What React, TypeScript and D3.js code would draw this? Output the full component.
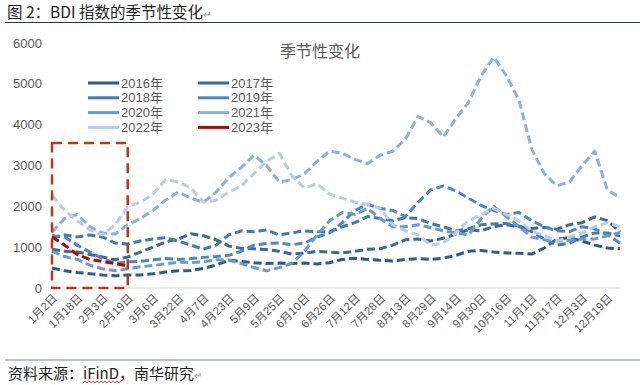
import React, { useEffect, useRef } from 'react';
import { select, scaleLinear, line, range } from 'd3';

// sampled every 8 days starting 1月2日 (leap-year calendar as in the source chart)
const sampleStep = 8;
const tickStep = 16;
const tickLabels = [
  '1月2日', '1月18日', '2月3日', '2月19日', '3月6日', '3月22日', '4月7日', '4月23日',
  '5月9日', '5月25日', '6月10日', '6月26日', '7月12日', '7月28日', '8月13日', '8月29日',
  '9月14日', '9月30日', '10月16日', '11月1日', '11月17日', '12月3日', '12月19日',
];
const yTicks = [0, 1000, 2000, 3000, 4000, 5000, 6000];

const bdi2016 = [490, 420, 380, 350, 320, 300, 320, 320, 350, 390, 420, 430, 480, 560, 680, 650,
  620, 600, 610, 600, 610, 590, 620, 700, 730, 700, 680, 660, 700, 720, 700, 730,
  800, 900, 920, 880, 860, 850, 830, 980, 1200, 1230, 1150, 1050, 980, 960];
const bdi2017 = [950, 900, 880, 820, 760, 690, 760, 880, 1000, 1130, 1200, 1330, 1280, 1180, 1030, 970,
  960, 940, 900, 830, 850, 900, 880, 860, 900, 950, 960, 1050, 1180, 1200, 1150, 1220,
  1320, 1430, 1400, 1500, 1550, 1500, 1460, 1480, 1440, 1550, 1600, 1740, 1650, 1370];
const bdi2018 = [1230, 1300, 1250, 1300, 1250, 1100, 1080, 1150, 1200, 1230, 1150, 1050, 950, 1050, 1300, 1400,
  1380, 1420, 1300, 1350, 1400, 1380, 1370, 1500, 1600, 1750, 1700, 1650, 1720, 1700, 1580, 1500,
  1400, 1450, 1550, 1570, 1580, 1520, 1380, 1200, 1050, 1100, 1250, 1350, 1350, 1270];
const bdi2019 = [1280, 1250, 1050, 880, 720, 600, 640, 650, 690, 720, 700, 720, 750, 770, 800, 900,
  1050, 1090, 1100, 1060, 1100, 1250, 1350, 1600, 1900, 2050, 1950, 1900, 1750, 2100, 2400, 2500,
  2380, 2200, 2020, 1900, 1800, 1850, 1650, 1500, 1400, 1380, 1500, 1450, 1300, 1100];
const bdi2020 = [900, 770, 700, 560, 470, 420, 470, 520, 550, 590, 630, 620, 640, 690, 680, 600,
  500, 420, 500, 600, 900, 1300, 1650, 1850, 1800, 1950, 1700, 1500, 1500, 1550, 1480, 1400,
  1350, 1300, 1700, 2000, 1750, 1500, 1250, 1180, 1150, 1170, 1200, 1200, 1280, 1360];
const bdi2021 = [1370, 1700, 1800, 1500, 1350, 1320, 1550, 1700, 1900, 2150, 2350, 2200, 2100, 2350, 2700, 2950,
  3250, 3000, 2600, 2650, 2800, 3100, 3350, 3300, 3150, 3050, 3250, 3350, 3650, 4200, 4050, 3700,
  4150, 4550, 5200, 5650, 5200, 4600, 3400, 2800, 2500, 2600, 3000, 3350, 2400, 2220];
const bdi2022 = [2280, 1900, 1650, 1420, 1300, 1550, 2000, 2100, 2300, 2650, 2600, 2450, 2100, 2150, 2350, 2500,
  2800, 3100, 3300, 2750, 2450, 2550, 2300, 2200, 2100, 2050, 1950, 1550, 1400, 1300, 1050, 1100,
  1350, 1650, 1800, 1950, 1800, 1650, 1400, 1280, 1150, 1250, 1350, 1500, 1600, 1500];
const bdi2023 = [1250, 1050, 820, 700, 650, 600, 540];

const seriesNames = ['2016年', '2017年', '2018年', '2019年', '2020年', '2021年', '2022年', '2023年'];
const seriesValues = [bdi2016, bdi2017, bdi2018, bdi2019, bdi2020, bdi2021, bdi2022, bdi2023];
const seriesColors = ['#2f5b87', '#3a6a9c', '#4479b3', '#4d87c4', '#6b9acd', '#8db0da', '#b7cde9', '#c00000'];

// highlighted window (start of year up to 2月19日)
const highlightDays = [0, 48];
const highlightTop = 3550;

const FONT = '"Noto Sans CJK SC", "Noto Sans", sans-serif';
const NUM_FONT = '"Liberation Sans", "Noto Sans CJK SC", sans-serif';

export default function App() {
  const svgRef = useRef<SVGSVGElement>(null);

  useEffect(() => {
    if (!svgRef.current) return;
    const svg = select(svgRef.current);
    svg.selectAll('*').remove();

    const x = scaleLinear().domain([0, 360]).range([52, 620]);
    const y = scaleLinear().domain([0, 6000]).range([288, 43]);

    // header
    const head = svg.append('text')
      .attr('x', 7).attr('y', 18)
      .style('font-family', FONT).style('font-size', '15.5px').style('fill', '#222');
    head.append('tspan').text('图 2：BDI 指数的季节性变化');
    head.append('tspan').style('font-size', '10px').style('fill', '#999').text('↵');
    svg.append('line')
      .attr('x1', 5).attr('x2', 640).attr('y1', 22.5).attr('y2', 22.5)
      .attr('stroke', '#1f3a60').attr('stroke-width', 1.2);

    // chart title
    svg.append('text')
      .attr('x', 320).attr('y', 57).attr('text-anchor', 'middle')
      .style('font-family', FONT).style('font-size', '16px').style('fill', '#595959')
      .text('季节性变化');

    // y labels
    svg.append('g').selectAll('text').data(yTicks).join('text')
      .attr('x', 42).attr('y', d => y(d)).attr('dy', '0.35em').attr('text-anchor', 'end')
      .style('font-family', NUM_FONT).style('font-size', '13px').style('fill', '#595959')
      .text(d => d);

    // x axis line
    svg.append('line')
      .attr('x1', x(0)).attr('x2', x(360)).attr('y1', y(0)).attr('y2', y(0))
      .attr('stroke', '#d9d9d9').attr('stroke-width', 1);

    // x labels
    svg.append('g').selectAll('text').data(tickLabels).join('text')
      .attr('transform', (_, i) => `translate(${x(i * tickStep) + 3},${y(0) + 8}) rotate(-45)`)
      .attr('text-anchor', 'end').attr('dy', '0.35em')
      .style('font-family', NUM_FONT).style('font-size', '11.5px').style('fill', '#595959')
      .text(d => d);

    // series lines
    const lineGen = line<number>()
      .x((_, i) => x(i * sampleStep))
      .y(d => y(d));

    svg.append('g').selectAll('path').data(seriesValues).join('path')
      .attr('d', d => lineGen(d) || '')
      .attr('fill', 'none')
      .attr('stroke', (_, i) => seriesColors[i])
      .attr('stroke-width', 3)
      .attr('stroke-dasharray', '8,4')
      .attr('stroke-linejoin', 'round');

    // legend
    const legend = svg.append('g');
    seriesNames.forEach((name, i) => {
      const col = i % 2;
      const row = Math.floor(i / 2);
      const lx = 88 + col * 110;
      const ly = 83 + row * 14.8;
      legend.append('line')
        .attr('x1', lx).attr('x2', lx + 31).attr('y1', ly).attr('y2', ly)
        .attr('stroke', seriesColors[i]).attr('stroke-width', 3);
      legend.append('text')
        .attr('x', lx + 33).attr('y', ly).attr('dy', '0.35em')
        .style('font-family', NUM_FONT).style('font-size', '13px').style('fill', '#595959')
        .text(name);
    });

    // highlight box
    svg.append('rect')
      .attr('x', x(highlightDays[0])).attr('y', y(highlightTop))
      .attr('width', x(highlightDays[1]) - x(highlightDays[0]))
      .attr('height', y(0) - y(highlightTop))
      .attr('fill', 'none').attr('stroke', '#b8391a')
      .attr('stroke-width', 2.5).attr('stroke-dasharray', '10,6');

    // footer
    svg.append('line')
      .attr('x1', 5).attr('x2', 640).attr('y1', 360).attr('y2', 360)
      .attr('stroke', '#9fb0c4').attr('stroke-width', 1.6);
    const foot = svg.append('text')
      .attr('x', 8).attr('y', 379)
      .style('font-family', FONT).style('font-size', '15px').style('fill', '#222');
    foot.append('tspan').text('资料来源：iFinD，南华研究');
    foot.append('tspan').style('font-size', '10px').style('fill', '#999').text('↵');

    const node = foot.node() as SVGTextElement;
    try {
      const start = 8 + node.getSubStringLength(0, 5);
      const len = node.getSubStringLength(5, 5);
      const pts = range(0, Math.ceil(len / 2) + 1).map(k => `${start + k * 2},${k % 2 ? 381 : 383}`);
      svg.append('polyline')
        .attr('points', pts.join(' '))
        .attr('fill', 'none').attr('stroke', '#e02020').attr('stroke-width', 0.8);
    } catch (e) {
      // measuring not available
    }
  }, []);

  return (
    <svg
      ref={svgRef}
      width={640}
      height={385}
      style={{ position: 'absolute', left: 0, top: 0, background: '#fff' }}
    />
  );
}
